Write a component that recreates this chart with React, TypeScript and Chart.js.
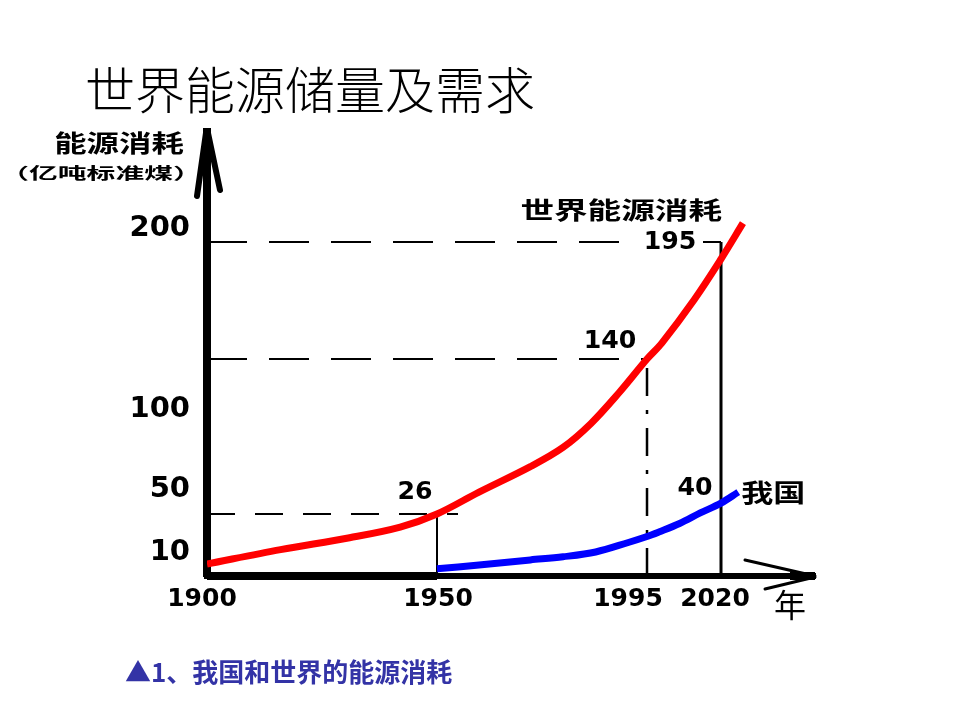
import React, { useEffect, useRef } from 'react';
import { Chart, registerables, LinearScale } from 'chart.js';

Chart.register(...registerables);

// ---- data ----
const WORLD_YEARS = [1900, 1916, 1931, 1942, 1950, 1959, 1970, 1977, 1983, 1989, 1995, 2000, 2011, 2020, 2027];
const WORLD_VALUES = [5, 11, 16, 20.5, 26, 47, 64, 76, 91, 113, 140, 147.5, 168, 187, 202];
const CHINA_YEARS = [1950, 1959, 1970, 1977, 1984, 1991, 1995, 1999, 2006, 2013, 2020, 2025.5];
const CHINA_VALUES = [3, 4.6, 6.7, 8, 10, 14, 16.5, 18.4, 22, 27, 36.5, 47];
const Y_TICKS = [10, 50, 100, 200];
const X_TICKS = [1900, 1950, 1995, 2020];
const MARK_YEARS = [1950, 1995, 2020];
const MARK_WORLD = [26, 140, 195];
const MARK_CHINA = 40;
const SERIES_NAMES = ['世界能源消耗', '我国'];
const TITLE = '世界能源储量及需求';
const Y_TITLE = ['能源消耗', '（亿吨标准煤）'];
const X_TITLE = '年';
const CAPTION = '▲1、我国和世界的能源消耗';

// ---- piecewise (hand-drawn, non-uniform) axis definition: [value, fraction of axis] ----
const BREAKS: Record<string, number[][]> = {
  x: [[1900, 0], [1950, 0.3783], [1995, 0.7237], [2020, 0.8454], [2050, 1]],
  y: [[0, 0], [10, 0.0541], [26, 0.1396], [50, 0.1959], [100, 0.3761], [140, 0.4887], [195, 0.7523], [200, 0.7838], [240, 1]],
};

function toDecimal(v: number, k: number[][]) {
  let i = 0;
  while (i < k.length - 2 && v > k[i + 1][0]) i++;
  const [v0, d0] = k[i];
  const [v1, d1] = k[i + 1];
  return d0 + ((v - v0) * (d1 - d0)) / (v1 - v0);
}
function fromDecimal(d: number, k: number[][]) {
  let i = 0;
  while (i < k.length - 2 && d > k[i + 1][1]) i++;
  const [v0, d0] = k[i];
  const [v1, d1] = k[i + 1];
  return v0 + ((d - d0) * (v1 - v0)) / (d1 - d0);
}

class BrokenScale extends LinearScale {
  static id = 'broken';
  static defaults = LinearScale.defaults;
  getPixelForValue(value: any) {
    if (value === null || value === undefined || isNaN(value)) return NaN;
    return this.getPixelForDecimal(toDecimal(+value, BREAKS[(this as any).id]));
  }
  getValueForPixel(pixel: number) {
    return fromDecimal(this.getDecimalForPixel(pixel), BREAKS[(this as any).id]);
  }
}
Chart.register(BrokenScale as any);

function pts(xs: number[], ys: number[]) {
  return xs.map((x, i) => ({ x, y: ys[i] }));
}

function guide(data: any[], dash: number[], width: number) {
  return {
    data,
    borderColor: '#000',
    borderWidth: width,
    borderDash: dash,
    pointRadius: 0,
    tension: 0,
    fill: false,
    order: 2,
  };
}

function drawText(ctx: CanvasRenderingContext2D, s: string, px: number, py: number, font: string, align: CanvasTextAlign, sx = 1, bg = false) {
  ctx.save();
  ctx.font = font;
  ctx.textAlign = align;
  ctx.textBaseline = 'middle';
  ctx.translate(px, py);
  ctx.scale(sx, 1);
  if (bg) {
    const w = ctx.measureText(s).width;
    const left = align === 'center' ? -w / 2 : align === 'right' ? -w : 0;
    ctx.fillStyle = '#fff';
    ctx.fillRect(left - 6, -10, w + 12, 20);
  }
  ctx.fillStyle = '#000';
  ctx.fillText(s, 0, 0);
  ctx.restore();
}

const annotations = {
  id: 'annotations',
  afterDraw(chart: any) {
    const { ctx, chartArea: ca, scales } = chart;
    const x = scales.x;
    const y = scales.y;
    ctx.save();
    ctx.strokeStyle = '#000';
    ctx.lineCap = 'round';
    // y-axis arrow head
    ctx.lineWidth = 6;
    ctx.beginPath();
    ctx.moveTo(ca.left - 1, ca.top + 1);
    ctx.lineTo(ca.left - 10, ca.top + 64);
    ctx.moveTo(ca.left + 1, ca.top + 1);
    ctx.lineTo(ca.left + 13, ca.top + 58);
    ctx.stroke();
    // x-axis arrow head
    ctx.lineWidth = 3;
    ctx.beginPath();
    ctx.moveTo(ca.right, ca.bottom);
    ctx.lineTo(ca.right - 70, ca.bottom - 16);
    ctx.moveTo(ca.right, ca.bottom + 1);
    ctx.lineTo(ca.right - 50, ca.bottom + 13);
    ctx.stroke();
    ctx.fillStyle = '#000';
    ctx.fillRect(ca.right - 25, ca.bottom - 4, 25, 8);
    // heavier x-axis segment near the origin, as in the drawing
    ctx.fillRect(ca.left, ca.bottom - 4, x.getPixelForValue(MARK_YEARS[0]) - ca.left, 8);
    ctx.restore();

    const numFont = 'bold 24px "DejaVu Sans"';
    const cjkBold = (s: number) => `bold ${s}px "Noto Sans CJK SC"`;

    // x tick labels (slightly shifted like the hand drawing)
    const shift = [-5, 1, -19, -6];
    X_TICKS.forEach((v, i) => {
      drawText(ctx, String(v), x.getPixelForValue(v) + shift[i], ca.bottom + 23, 'bold 25px "DejaVu Sans"', 'center');
    });

    // axis titles
    drawText(ctx, Y_TITLE[0], ca.left - 88, ca.top + 11, cjkBold(24), 'center', 1.35);
    drawText(ctx, Y_TITLE[1], ca.left - 106, ca.top + 41, cjkBold(16), 'center', 1.8);
    drawText(ctx, X_TITLE, ca.right - 25, ca.bottom + 29, '32px "Noto Sans CJK SC"', 'center');

    // value marks
    drawText(ctx, String(MARK_WORLD[0]), x.getPixelForValue(MARK_YEARS[0]) - 22, y.getPixelForValue(MARK_WORLD[0]) - 21, numFont, 'center', 1.05);
    drawText(ctx, String(MARK_WORLD[1]), x.getPixelForValue(MARK_YEARS[1]) - 37, y.getPixelForValue(MARK_WORLD[1]) - 17, numFont, 'center', 1.05);
    drawText(ctx, String(MARK_WORLD[2]), x.getPixelForValue(MARK_YEARS[2]) - 51, y.getPixelForValue(MARK_WORLD[2]) + 1, numFont, 'center', 1.05, true);
    drawText(ctx, String(MARK_CHINA), x.getPixelForValue(MARK_YEARS[2]) - 26, y.getPixelForValue(MARK_CHINA) - 11, numFont, 'center', 1.05);

    // series names
    drawText(ctx, SERIES_NAMES[0], x.getPixelForValue(MARK_YEARS[2]) + 1, y.getPixelForValue(200) - 18, cjkBold(24), 'right', 1.4);
    const lastI = CHINA_YEARS.length - 1;
    drawText(ctx, SERIES_NAMES[1], x.getPixelForValue(CHINA_YEARS[lastI]) + 3, y.getPixelForValue(CHINA_VALUES[lastI]), cjkBold(25), 'left', 1.28);
  },
};

export default function App() {
  const ref = useRef<HTMLCanvasElement | null>(null);

  useEffect(() => {
    if (!ref.current) return;
    const chart = new Chart(ref.current, {
      type: 'line',
      data: {
        datasets: [
          {
            label: SERIES_NAMES[0],
            data: pts(WORLD_YEARS, WORLD_VALUES),
            borderColor: '#ff0000',
            borderWidth: 7,
            pointRadius: 0,
            tension: 0.35,
            fill: false,
            order: 1,
          },
          {
            label: SERIES_NAMES[1],
            data: pts(CHINA_YEARS, CHINA_VALUES),
            borderColor: '#0000ff',
            borderWidth: 7,
            pointRadius: 0,
            tension: 0.35,
            fill: false,
            order: 1,
          },
          guide([{ x: X_TICKS[0], y: MARK_WORLD[2] }, { x: MARK_YEARS[2], y: MARK_WORLD[2] }], [40, 22], 2),
          guide([{ x: X_TICKS[0], y: MARK_WORLD[1] }, { x: MARK_YEARS[1], y: MARK_WORLD[1] }], [40, 22], 2),
          guide([{ x: X_TICKS[0], y: MARK_WORLD[0] }, { x: MARK_YEARS[0] + 4.5, y: MARK_WORLD[0] }], [28, 20], 2),
          guide([{ x: MARK_YEARS[0], y: 0 }, { x: MARK_YEARS[0], y: MARK_WORLD[0] }], [], 2),
          guide([{ x: MARK_YEARS[1], y: 0 }, { x: MARK_YEARS[1], y: MARK_WORLD[1] }], [28, 14, 4, 14], 2.5),
          guide([{ x: MARK_YEARS[2], y: 0 }, { x: MARK_YEARS[2], y: MARK_WORLD[2] }], [], 3),
        ] as any,
      },
      options: {
        responsive: false,
        animation: false,
        layout: { padding: { left: 0, right: 145, top: 132, bottom: 0 } },
        plugins: {
          legend: { display: false },
          tooltip: { enabled: false },
          title: { display: false },
        },
        scales: {
          x: {
            type: 'broken' as any,
            min: 1900,
            max: 2050,
            grid: { display: false, drawTicks: false },
            border: { display: true, color: '#000', width: 6 },
            ticks: { display: false },
            afterFit: (s: any) => {
              s.height = 144;
            },
          },
          y: {
            type: 'broken' as any,
            min: 0,
            max: 240,
            grid: { display: false, drawTicks: false },
            border: { display: true, color: '#000', width: 8 },
            ticks: {
              color: '#000',
              padding: 17,
              font: { family: 'DejaVu Sans', size: 29, weight: 'bold' },
              callback: (v: any) => String(v),
            },
            afterBuildTicks: (s: any) => {
              s.ticks = Y_TICKS.map((v) => ({ value: v }));
            },
            afterFit: (s: any) => {
              s.width = 207;
            },
          },
        } as any,
      },
      plugins: [annotations],
    });
    return () => chart.destroy();
  }, []);

  return (
    <div style={{ position: 'absolute', left: 0, top: 0, width: 960, height: 720, background: '#fff' }}>
      <canvas ref={ref} width={960} height={720} style={{ display: 'block', position: 'absolute', left: 0, top: 0 }} />
      <div
        style={{
          position: 'absolute',
          left: 85,
          top: 62,
          font: '300 50px "Noto Sans CJK SC"',
          lineHeight: '50px',
          whiteSpace: 'nowrap',
          color: '#000',
        }}
      >
        {TITLE}
      </div>
      <div
        style={{
          position: 'absolute',
          left: 125,
          top: 658,
          font: 'bold 26px "Noto Sans CJK SC"',
          lineHeight: '26px',
          whiteSpace: 'nowrap',
          color: '#3333a6',
        }}
      >
        {CAPTION}
      </div>
    </div>
  );
}
